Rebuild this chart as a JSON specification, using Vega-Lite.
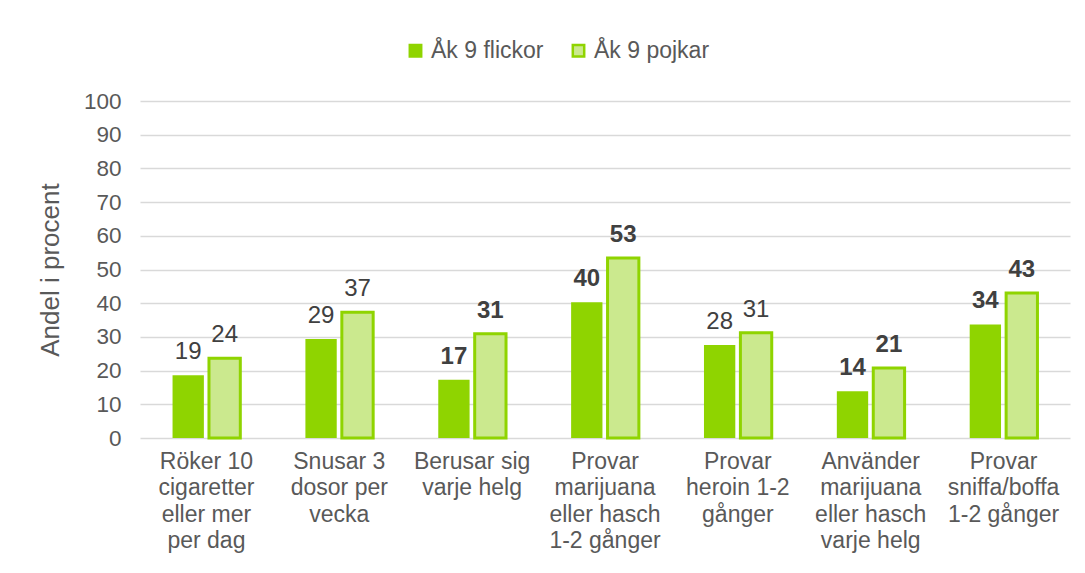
{
  "$schema": "https://vega.github.io/schema/vega-lite/v6.json",
  "width": 930,
  "height": 337,
  "autosize": {"type": "none"},
  "padding": {"left": 140, "top": 101, "right": 15, "bottom": 135},
  "background": "white",
  "config": {
    "font": "Liberation Sans",
    "view": {"stroke": null}
  },
  "data": {
    "values": [
      {"kategori": "Röker 10\ncigaretter\neller mer\nper dag", "grupp": "Åk 9 flickor", "andel": 18.6},
      {"kategori": "Röker 10\ncigaretter\neller mer\nper dag", "grupp": "Åk 9 pojkar", "andel": 23.7},
      {"kategori": "Snusar 3\ndosor per\nvecka", "grupp": "Åk 9 flickor", "andel": 29.4},
      {"kategori": "Snusar 3\ndosor per\nvecka", "grupp": "Åk 9 pojkar", "andel": 37.3},
      {"kategori": "Berusar sig\nvarje helg", "grupp": "Åk 9 flickor", "andel": 17.3},
      {"kategori": "Berusar sig\nvarje helg", "grupp": "Åk 9 pojkar", "andel": 30.9},
      {"kategori": "Provar\nmarijuana\neller hasch\n1-2 gånger", "grupp": "Åk 9 flickor", "andel": 40.3},
      {"kategori": "Provar\nmarijuana\neller hasch\n1-2 gånger", "grupp": "Åk 9 pojkar", "andel": 53.4},
      {"kategori": "Provar\nheroin 1-2\ngånger", "grupp": "Åk 9 flickor", "andel": 27.6},
      {"kategori": "Provar\nheroin 1-2\ngånger", "grupp": "Åk 9 pojkar", "andel": 31.2},
      {"kategori": "Använder\nmarijuana\neller hasch\nvarje helg", "grupp": "Åk 9 flickor", "andel": 13.9},
      {"kategori": "Använder\nmarijuana\neller hasch\nvarje helg", "grupp": "Åk 9 pojkar", "andel": 20.8},
      {"kategori": "Provar\nsniffa/boffa\n1-2 gånger", "grupp": "Åk 9 flickor", "andel": 33.7},
      {"kategori": "Provar\nsniffa/boffa\n1-2 gånger", "grupp": "Åk 9 pojkar", "andel": 43.0}
    ]
  },
  "encoding": {
    "x": {
      "field": "kategori",
      "type": "nominal",
      "sort": null,
      "scale": {"paddingInner": 0.49, "paddingOuter": 0.245},
      "axis": {
        "title": null,
        "labelAngle": 0,
        "labelExpr": "split(datum.label, '\\n')",
        "labelFontSize": 23,
        "labelLineHeight": 26.5,
        "labelColor": "#595959",
        "labelPadding": 12,
        "labelLimit": 0,
        "domain": false,
        "ticks": false,
        "grid": false
      }
    },
    "xOffset": {
      "field": "grupp",
      "type": "nominal",
      "sort": ["Åk 9 flickor", "Åk 9 pojkar"],
      "scale": {"paddingInner": 0.14}
    },
    "y": {
      "field": "andel",
      "type": "quantitative",
      "scale": {"domain": [0, 100], "nice": false},
      "axis": {
        "title": "Andel i procent",
        "titleFontSize": 26,
        "titleFontWeight": "normal",
        "titleColor": "#595959",
        "titlePadding": 20,
        "values": [0, 10, 20, 30, 40, 50, 60, 70, 80, 90, 100],
        "labelFontSize": 22.5,
        "labelColor": "#595959",
        "labelPadding": 19,
        "domain": false,
        "ticks": false,
        "grid": true,
        "gridColor": "#D9D9D9",
        "gridWidth": 1.4
      }
    }
  },
  "layer": [
    {
      "mark": {"type": "bar", "stroke": "#8FD400"},
      "encoding": {
        "fill": {
          "field": "grupp",
          "type": "nominal",
          "sort": ["Åk 9 flickor", "Åk 9 pojkar"],
          "scale": {"domain": ["Åk 9 flickor", "Åk 9 pojkar"], "range": ["#8FD400", "#CBE98E"]},
          "legend": {
            "title": null,
            "orient": "none",
            "legendX": 264,
            "legendY": -62,
            "direction": "horizontal",
            "symbolType": "square",
            "symbolSize": 130,
            "symbolStrokeColor": "#8FD400",
            "symbolStrokeWidth": 2.5,
            "labelFontSize": 23,
            "labelColor": "#595959",
            "labelOffset": 4,
            "columnPadding": 23
          }
        },
        "strokeWidth": {
          "condition": {"test": "datum.grupp === 'Åk 9 pojkar'", "value": 3},
          "value": 0
        }
      }
    },
    {
      "transform": [
        {"filter": {"field": "kategori", "oneOf": ["Berusar sig\nvarje helg", "Provar\nmarijuana\neller hasch\n1-2 gånger", "Använder\nmarijuana\neller hasch\nvarje helg", "Provar\nsniffa/boffa\n1-2 gånger"]}}
      ],
      "mark": {"type": "text", "baseline": "bottom", "dy": -11, "fontSize": 24, "fontWeight": "bold", "color": "#404040"},
      "encoding": {
        "text": {"field": "andel", "type": "quantitative", "format": ".0f"}
      }
    },
    {
      "transform": [
        {"filter": {"not": {"field": "kategori", "oneOf": ["Berusar sig\nvarje helg", "Provar\nmarijuana\neller hasch\n1-2 gånger", "Använder\nmarijuana\neller hasch\nvarje helg", "Provar\nsniffa/boffa\n1-2 gånger"]}}}
      ],
      "mark": {"type": "text", "baseline": "bottom", "dy": -11, "fontSize": 24, "color": "#404040"},
      "encoding": {
        "text": {"field": "andel", "type": "quantitative", "format": ".0f"}
      }
    }
  ]
}
